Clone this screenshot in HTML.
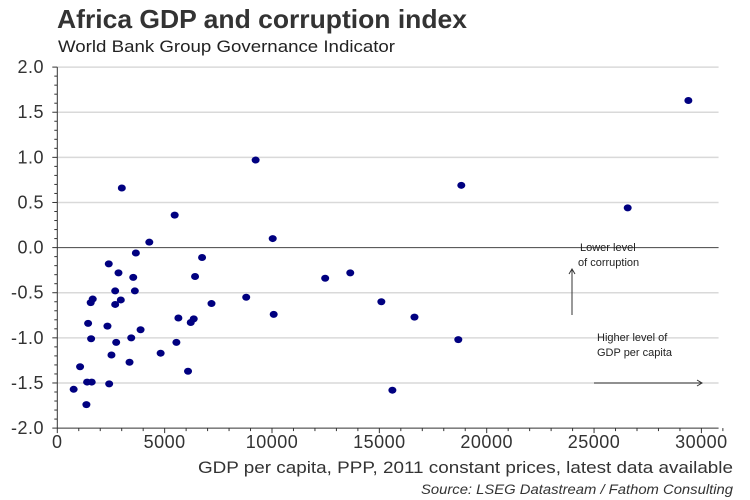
<!DOCTYPE html>
<html><head><meta charset="utf-8"><style>
body{margin:0;background:#fff;}
svg{display:block;font-family:"Liberation Sans",Arial,sans-serif;}
</style></head><body>
<svg width="750" height="500" id="c">
<text x="57" y="28" font-size="26" font-weight="bold" fill="#333" textLength="410" lengthAdjust="spacingAndGlyphs">Africa GDP and corruption index</text>
<text x="58" y="52" font-size="17" fill="#222" textLength="337" lengthAdjust="spacingAndGlyphs">World Bank Group Governance Indicator</text>
<g id="grid"></g>
<g id="axes"></g>
<g id="pts"></g>
<g>
<line x1="572" y1="315" x2="572" y2="270" stroke="#333" stroke-width="1"/>
<path d="M569,274 L572,269 L575,274" fill="none" stroke="#333"/>
<text x="580" y="251" font-size="11" fill="#222">Lower level</text>
<text x="578" y="266" font-size="11" fill="#222">of corruption</text>
</g>
<g>
<line x1="594" y1="383" x2="702" y2="383" stroke="#333"/>
<path d="M697,380 L702,383 L697,386" fill="none" stroke="#333"/>
<text x="597" y="341" font-size="11" fill="#222">Higher level of</text>
<text x="597" y="356" font-size="11" fill="#222">GDP per capita</text>
</g>
<text x="198" y="473" font-size="17" fill="#333" textLength="535" lengthAdjust="spacingAndGlyphs">GDP per capita, PPP, 2011 constant prices, latest data available</text>
<text x="421" y="494" font-size="13.5" font-style="italic" fill="#333" textLength="312" lengthAdjust="spacingAndGlyphs">Source: LSEG Datastream / Fathom Consulting</text>
</svg>
<script>
const gdp=[762,1061,1388,1603,1355,1435,1575,1556,1650,2336,2416,2523,2397,2696,2696,2743,2850,2958,3005,3364,3444,3537,3612,3659,3879,4285,4813,5467,5547,5640,6089,6215,6355,6416,6743,7182,8799,9238,10033,10079,12477,13645,15093,15607,16636,18677,18817,26567,29393];
const corruption=[-1.57,-1.32,-1.49,-1.49,-1.74,-0.84,-1.01,-0.61,-0.57,-0.87,-1.51,-1.19,-0.18,-0.48,-0.63,-1.05,-0.28,-0.58,0.66,-1.27,-1.00,-0.33,-0.48,-0.06,-0.91,0.06,-1.17,0.36,-1.05,-0.78,-1.37,-0.83,-0.79,-0.32,-0.11,-0.62,-0.55,0.97,0.10,-0.74,-0.34,-0.28,-0.60,-1.58,-0.77,-1.02,0.69,0.44,1.63];
const xTicks=[0,5000,10000,15000,20000,25000,30000];
const yTicks=[2.0,1.5,1.0,0.5,0.0,-0.5,-1.0,-1.5,-2.0];
const NS='http://www.w3.org/2000/svg';
const X=v=>57.3+v*0.02147;
const Y=v=>247.6-v*90.25;
function mk(t,a,p){const e=document.createElementNS(NS,t);for(const k in a)e.setAttribute(k,a[k]);p.appendChild(e);return e;}
const grid=document.getElementById('grid'),axes=document.getElementById('axes'),pts=document.getElementById('pts');
yTicks.forEach(v=>{
 if(v!==0&&v!==-2){const l=mk('line',{x1:X(0),x2:X(30800),y1:Y(v),y2:Y(v),stroke:'#d9d9d9','stroke-width':1.5},grid);
 
 }
 const t=mk('text',{x:44,y:Y(v)+6,'text-anchor':'end','font-size':18,fill:'#333','letter-spacing':0.5},axes);
 t.textContent=v.toFixed(1);
 
 
});
for(let v=-2;v<=2.001;v+=0.1){const len=Math.abs(Math.round(v*10)%5)===0?5:3;mk('line',{x1:X(0)-len,x2:X(0),y1:Y(v),y2:Y(v),stroke:'#333'},axes);}
for(let v=0;v<=31000;v+=1000){const len=v%5000===0?5:3;mk('line',{x1:X(v),x2:X(v),y1:Y(-2),y2:Y(-2)+len,stroke:'#333'},axes);}
xTicks.forEach(v=>{const t=mk('text',{x:X(v),y:448,'text-anchor':'middle','font-size':18,fill:'#333','letter-spacing':0.5},axes);t.textContent=v;
 
 });
const za=mk('line',{x1:X(0),x2:X(30800),y1:Y(0),y2:Y(0),stroke:'#444','stroke-width':1},axes);


mk('line',{x1:X(0),x2:X(0),y1:Y(2),y2:Y(-2),stroke:'#333'},axes);
mk('line',{x1:X(0),x2:X(30800),y1:Y(-2),y2:Y(-2),stroke:'#333'},axes);
gdp.forEach((g,i)=>{const d=mk('ellipse',{cx:X(g),cy:Y(corruption[i]),rx:4,ry:3.5,fill:'#000080'},pts);
 
 });
</script>
</body></html>
